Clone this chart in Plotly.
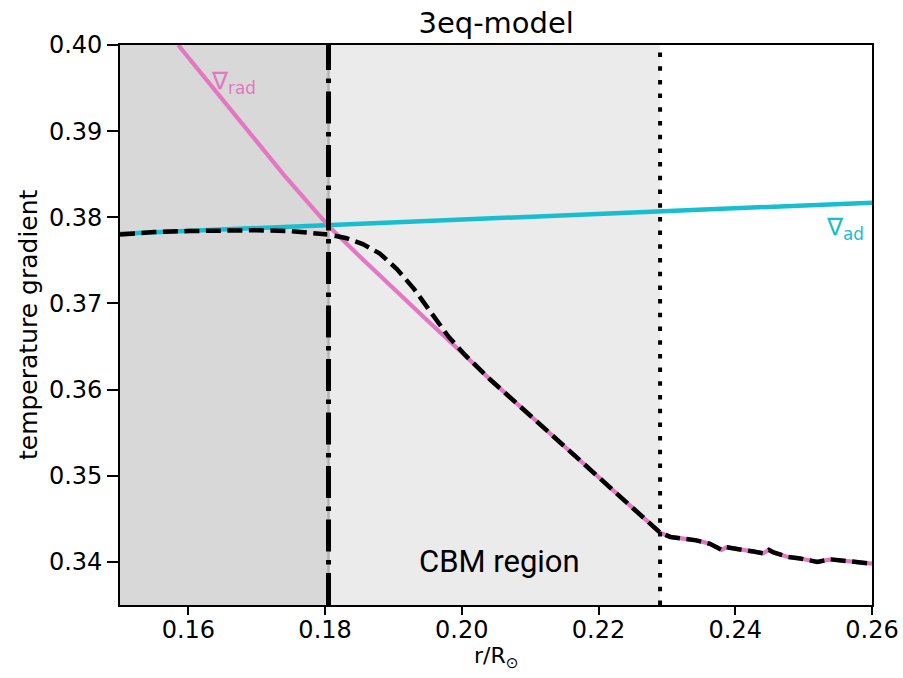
import plotly.graph_objects as go

# Radial coordinate (r / R_sun) and temperature gradients
r_ad = [0.150, 0.260]
nabla_ad = [0.3781, 0.3817]

r_rad = [0.1585, 0.1636, 0.1687, 0.1740, 0.1795, 0.1805, 0.1850, 0.1900, 0.1950,
         0.2000, 0.2041, 0.2100, 0.2150, 0.2200, 0.2250, 0.2290,
         0.2305, 0.2324, 0.2343, 0.2363, 0.2380, 0.2387, 0.2407, 0.2427, 0.2441,
         0.2449, 0.2456, 0.2476, 0.2495, 0.2520, 0.2539, 0.2553, 0.2573, 0.2600]
nabla_rad = [0.4000, 0.3950, 0.3900, 0.3849, 0.3799, 0.3790, 0.3755, 0.3717, 0.3680,
             0.3643, 0.3612, 0.3570, 0.3534, 0.3498, 0.3462, 0.3434,
             0.3429, 0.3427, 0.3425, 0.3421, 0.3414, 0.3417, 0.3415, 0.3412, 0.3410,
             0.3414, 0.3411, 0.3406, 0.3404, 0.3400, 0.3403, 0.3402, 0.3400, 0.3398]

r_nabla = [0.150, 0.155, 0.160, 0.165, 0.170, 0.175, 0.178, 0.1805, 0.1830, 0.1855,
           0.1880, 0.1905, 0.1930, 0.1955, 0.1980, 0.2005]
nabla = [0.3780, 0.3783, 0.3784, 0.3785, 0.3785, 0.3784, 0.3782, 0.3780, 0.3776, 0.3769,
         0.3758, 0.3740, 0.3717, 0.3690, 0.3662, 0.3640]
# beyond the merge point the actual gradient follows nabla_rad
merge_r = 0.2041

r_conv_edge = 0.1805   # Schwarzschild boundary
r_cbm_edge = 0.2290    # outer edge of the CBM region

x_range = [0.150, 0.260]
y_range = [0.335, 0.400]
x_ticks = [0.16, 0.18, 0.20, 0.22, 0.24, 0.26]
y_ticks = [0.34, 0.35, 0.36, 0.37, 0.38, 0.39, 0.40]

PINK = "#e377c2"
CYAN = "#17becf"
FONT = "DejaVu Sans"

r_full = r_nabla + [r for r in r_rad if r >= merge_r]
nabla_full = nabla + [v for r, v in zip(r_rad, nabla_rad) if r >= merge_r]

fig = go.Figure()

fig.add_trace(go.Scatter(x=r_ad, y=nabla_ad, mode="lines",
                         line=dict(color=CYAN, width=4.5), hoverinfo="skip"))
fig.add_trace(go.Scatter(x=r_rad, y=nabla_rad, mode="lines",
                         line=dict(color=PINK, width=4.2), hoverinfo="skip"))
fig.add_trace(go.Scatter(x=r_full, y=nabla_full, mode="lines",
                         line=dict(color="black", width=4.5, dash="15px,6.5px"),
                         hoverinfo="skip"))

# boundary markers
fig.add_trace(go.Scatter(x=[r_conv_edge, r_conv_edge], y=y_range, mode="lines",
                         line=dict(color="#b4b4b4", width=2.5), hoverinfo="skip"))
fig.add_trace(go.Scatter(x=[r_conv_edge, r_conv_edge], y=y_range, mode="lines",
                         line=dict(color="black", width=5,
                                   dash="32px,8.5px,4.5px,8.5px"),
                         hoverinfo="skip"))
fig.add_trace(go.Scatter(x=[r_cbm_edge, r_cbm_edge], y=y_range, mode="lines",
                         line=dict(color="black", width=4, dash="4.5px,9.2px"),
                         hoverinfo="skip"))

# shaded zones
fig.add_shape(type="rect", xref="x", yref="y", x0=x_range[0], x1=r_conv_edge,
              y0=y_range[0], y1=y_range[1], fillcolor="#d8d8d8",
              line=dict(width=0), layer="below")
fig.add_shape(type="rect", xref="x", yref="y", x0=r_conv_edge, x1=r_cbm_edge,
              y0=y_range[0], y1=y_range[1], fillcolor="#ebebeb",
              line=dict(width=0), layer="below")

fig.add_annotation(x=0.16300, y=0.3957, xref="x", yref="y",
                   text="∇<sub>rad</sub>", showarrow=False,
                   xanchor="left", yanchor="middle",
                   font=dict(family=FONT, size=24, color=PINK))
fig.add_annotation(x=0.2530, y=0.3787, xref="x", yref="y",
                   text="∇<sub>ad</sub>", showarrow=False,
                   xanchor="left", yanchor="middle",
                   font=dict(family=FONT, size=24, color=CYAN))
fig.add_annotation(x=0.20545, y=0.3400, xref="x", yref="y",
                   text="CBM region", showarrow=False,
                   xanchor="center", yanchor="middle",
                   font=dict(family="Roboto", size=31, color="black"))

# axis titles
fig.add_annotation(x=0.5, y=-0.093, xref="paper", yref="paper",
                   text="r/R<sub>⊙</sub>", showarrow=False,
                   xanchor="center", yanchor="middle",
                   font=dict(family=FONT, size=22, color="black"))
fig.add_annotation(x=-0.1223, y=0.5, xref="paper", yref="paper",
                   text="temperature gradient", showarrow=False, textangle=-90,
                   xanchor="center", yanchor="middle",
                   font=dict(family=FONT, size=25, color="black"))

axis_common = dict(showgrid=False, zeroline=False, showline=True, automargin=False,
                   linecolor="black", linewidth=1.6, mirror=True,
                   ticks="outside", tickwidth=1.6, tickcolor="black",
                   tickfont=dict(family=FONT, size=24, color="black"))

fig.update_xaxes(range=x_range, tickvals=x_ticks, ticklen=8, ticklabelstandoff=-6,
                 ticktext=[f"{v:.2f}" for v in x_ticks], **axis_common)
fig.update_yaxes(range=y_range, tickvals=y_ticks, ticklen=11,
                 ticktext=[f"{v:.2f}" for v in y_ticks], **axis_common)

fig.update_layout(
    width=903, height=678,
    margin=dict(l=120, r=31, t=45, b=73),
    paper_bgcolor="white", plot_bgcolor="white",
    showlegend=False,
    title=dict(text="3eq-model", x=0.5495, xanchor="center",
               y=0.967, yanchor="middle",
               font=dict(family=FONT, size=29, color="black")),
)

fig.write_html("out.html")
